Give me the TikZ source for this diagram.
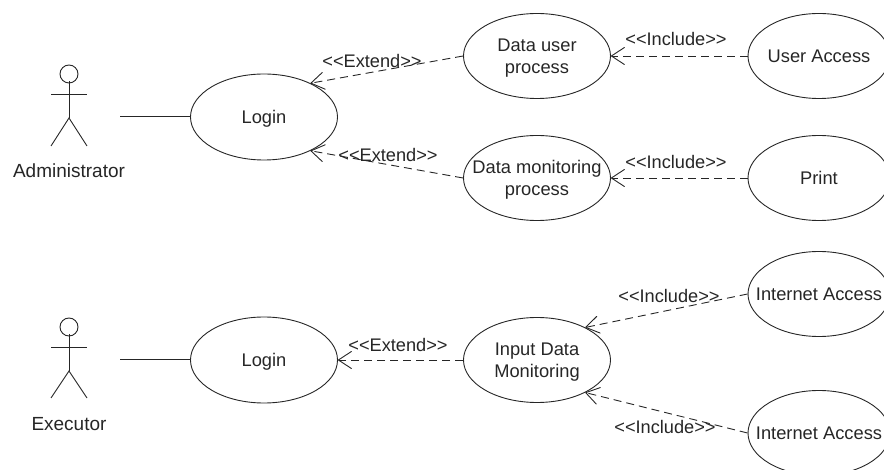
\documentclass[tikz,border=0pt]{standalone}
\usepackage{fontspec}
\setmainfont{Liberation Sans}
\usetikzlibrary{arrows.meta,shapes.geometric}
\definecolor{ink}{HTML}{262626}
\newcommand{\stereo}[1]{<\kern0pt<#1>\kern0pt>}
\newcommand{\zw}[1]{\makebox[0pt][c]{#1}}
\tikzset{
 uc/.style={draw=ink,text=ink,ellipse,line width=0.9pt,inner sep=0pt,text depth=0pt,align=center,font=\fontsize{18.3pt}{22pt}\selectfont},
 lbl/.style={text=ink,font=\fontsize{18.2pt}{22pt}\selectfont,inner sep=0pt},
 actorlbl/.style={text=ink,font=\fontsize{19pt}{22pt}\selectfont,inner sep=0pt},
 dep/.style={draw=ink,dash pattern=on 8pt off 5pt,line width=0.9pt,-{Straight Barb[length=13pt,width=17pt,line width=0.9pt,round]}},
 assoc/.style={draw=ink,line width=1pt},
 limb/.style={draw=ink,line width=0.9pt},
 head/.style={draw=ink,circle,minimum size=18pt,inner sep=0pt,line width=0.9pt}
}
\begin{document}
\begin{tikzpicture}[x=1pt,y=-1pt]
\useasboundingbox (0,0) rectangle (884,470);
\node[uc,minimum width=147pt,minimum height=86pt] (L1) at (264,117) {Login};
\node[uc,minimum width=147pt,minimum height=86pt] (L2) at (264,360) {Login};
\node[uc,minimum width=147pt,minimum height=85pt] (D1) at (537,56) {Data user\\process};
\node[uc,minimum width=147pt,minimum height=85pt] (D2) at (537,178) {\zw{Data monitoring}\\process};
\node[uc,minimum width=147pt,minimum height=85pt] (I) at (537,360) {Input Data\\Monitoring};
\node[uc,minimum width=142pt,minimum height=85pt] (U) at (819,56) {\zw{User Access}};
\node[uc,minimum width=142pt,minimum height=85pt] (P) at (819,178) {Print};
\node[uc,minimum width=142pt,minimum height=85pt] (N1) at (819,294) {\zw{Internet Access}};
\node[uc,minimum width=142pt,minimum height=85pt] (N2) at (819,433) {\zw{Internet Access}};
% actors
\node[head] (H1) at (69,74) {};
\coordinate (T1) at (69,81);
\coordinate (B1a) at (69,118);
\path[limb] (T1) -- (B1a);
\coordinate (Aa1) at (51,94.5); \coordinate (Ab1) at (87,94.5);
\path[limb] (Aa1) -- (Ab1);
\coordinate (La1) at (51,146); \coordinate (Lb1) at (87,146);
\path[limb] (La1) -- (B1a) -- (Lb1);
\node[actorlbl] (A1) at (69,171) {Administrator};
\node[head] (H2) at (69,327) {};
\coordinate (T2) at (69,334);
\coordinate (B2a) at (69,371);
\path[limb] (T2) -- (B2a);
\coordinate (Aa2) at (51,347); \coordinate (Ab2) at (87,347);
\path[limb] (Aa2) -- (Ab2);
\coordinate (La2) at (51,398); \coordinate (Lb2) at (87,398);
\path[limb] (La2) -- (B2a) -- (Lb2);
\node[actorlbl] (A2) at (69,424) {Executor};
\coordinate (S1) at (120,117); \coordinate (S2) at (120,360);
\path[assoc] (S1) -- (L1.west);
\path[assoc] (S2) -- (L2.west);
\path[dep] (D1.west) -- (L1.36);
\path[dep] (D2.west) -- (L1.-36);
\path[dep] (I.west) -- (L2.east);
\path[dep] (U.west) -- (D1.east);
\path[dep] (P.west) -- (D2.east);
\path[dep] (N1.west) -- (I.34);
\path[dep] (N2.west) -- (I.-34);
\node[lbl] (e1) at (372,61) {\stereo{Extend}};
\node[lbl] (e2) at (388,155) {\stereo{Extend}};
\node[lbl] (e3) at (398,345) {\stereo{Extend}};
\node[lbl] (i1) at (676,39) {\stereo{Include}};
\node[lbl] (i2) at (676,162) {\stereo{Include}};
\node[lbl] (i3) at (669,296) {\stereo{Include}};
\node[lbl] (i4) at (665,427) {\stereo{Include}};
\end{tikzpicture}
\end{document}
